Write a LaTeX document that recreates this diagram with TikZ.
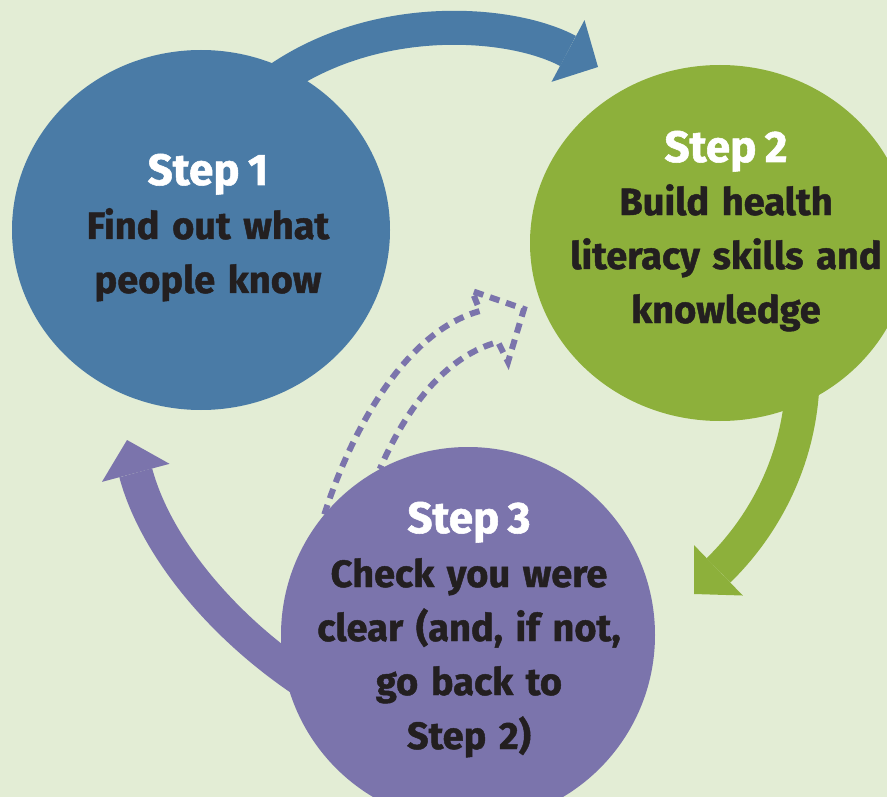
\documentclass[tikz,border=0pt]{standalone}
\usepackage{fontspec}
\setmainfont{Fira Sans}[BoldFeatures={FakeBold=1.2}, WordSpace=0.8]
\usetikzlibrary{shapes.geometric,arrows.meta}

\definecolor{stepblue}{HTML}{4A7BA6}
\definecolor{stepgreen}{HTML}{8DB03B}
\definecolor{steppurple}{HTML}{7B74AC}
\definecolor{paper}{HTML}{E3EDD5}
\definecolor{ink}{HTML}{231F20}

\tikzset{
  disc/.style={ellipse, inner sep=0pt},
  steptitle/.style={text=white, font=\bfseries\fontsize{44}{54}\selectfont, inner sep=0pt, anchor=base},
  stepbody/.style={text=ink, font=\bfseries\fontsize{38}{54}\selectfont, inner sep=0pt, align=center, text width=400pt, anchor=base},
  bigarrow/.style={line width=34pt, -{Triangle[width=70pt,length=34pt,line width=0pt]}},
  backarrow/.style={steppurple, line width=6pt, dash pattern=on 10pt off 7pt},
}

\begin{document}
\begin{tikzpicture}[x=1pt,y=-1pt]
        % Page
        \useasboundingbox (0,0) rectangle (887,797);
        \fill[paper] (0,0) rectangle (887,797);
        \clip (0,0) rectangle (887,797);

        % Circles
        \node[disc, fill=stepblue, minimum width=378pt, minimum height=360pt] (step1) at (201,230) {};
        \node[disc, fill=stepgreen, minimum width=380pt, minimum height=356pt] (step2) at (720,243) {};
        \node[disc, fill=steppurple, minimum width=374pt, minimum height=376pt] (step3) at (468,635) {};

        % Arrow tips
        \coordinate (tip12) at (598,67);
        \coordinate (tip23) at (694,594);
        \coordinate (tip31) at (127,440);

        % Step 1 -> Step 2
        \draw[bigarrow, stepblue, shorten <=-25pt] (step1.61) .. controls (370,10) and (510,20) .. (tip12);

        % Step 2 -> Step 3
        \draw[bigarrow, stepgreen, shorten <=-25pt] (step2.-63) .. controls (800,470) and (755,535) .. (tip23);

        % Step 3 -> Step 1
        \draw[bigarrow, steppurple, shorten <=-25pt] (step3.190) .. controls (220,625) and (155,545) .. (tip31);

        % Step 3 back to Step 2 (dashed outline)
        \draw[backarrow] (step3.140) .. controls (355,420) and (410,330) .. (480,311)
          -- (472,291) -- (524,309) -- (508,362) -- (498,342)
          .. controls (450,355) and (410,400) .. (step3.118);

        % Texts
        \node[steptitle] (title1) at (208,185) {Step 1};
        \node[stepbody] (body1) at (208,239) {Find out what\\people know};

        \node[steptitle] (title2) at (726,162) {Step 2};
        \node[stepbody] (body2) at (726,215) {Build health\\literacy skills and\\knowledge};

        \node[steptitle] (title3) at (469,533) {Step 3};
        \node[stepbody] (body3) at (469,587) {Check you were\\clear (and, if not,\\go back to\\Step 2)};
\end{tikzpicture}
\end{document}
